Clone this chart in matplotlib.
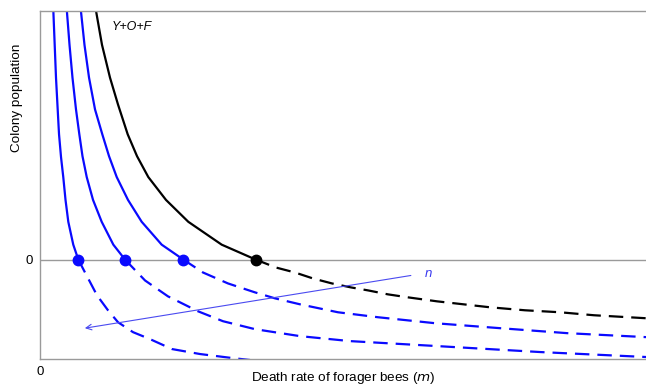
import matplotlib
matplotlib.use("Agg")
import matplotlib.pyplot as plt

plt.rcParams['font.family'] = ['Liberation Sans', 'DejaVu Sans']

# ---- data (x: death rate on a 0-100 scale; y: colony population, arbitrary units) ----
black_solid_x = [9.19, 10.23, 11.55, 12.87, 14.47, 16.01, 17.87, 20.79, 24.47, 29.98, 35.59]
black_solid_y = [2.52, 2.16, 1.83, 1.56, 1.26, 1.04, 0.83, 0.60, 0.38, 0.15, 0.0]
black_dash_x = [35.59, 38.94, 42.08, 45.05, 48.18, 51.32, 54.13, 57.43, 60.73, 65.51,
                74.26, 80.03, 85.81, 91.42, 100.0]
black_dash_y = [0.0, -0.08, -0.13, -0.19, -0.24, -0.28, -0.31, -0.35, -0.38, -0.42,
                -0.48, -0.51, -0.53, -0.56, -0.59]

blue3_solid_x = [6.72, 7.34, 8.09, 9.08, 10.28, 11.39, 12.66, 14.52, 16.78, 20.08, 23.65]
blue3_solid_y = [2.52, 2.16, 1.83, 1.51, 1.26, 1.04, 0.83, 0.60, 0.38, 0.15, 0.0]
blue3_dash_x = [23.65, 26.90, 31.02, 35.48, 38.78, 42.90, 49.17, 55.78, 65.18, 75.91, 86.96, 100.0]
blue3_dash_y = [0.0, -0.13, -0.24, -0.33, -0.39, -0.45, -0.53, -0.58, -0.64, -0.69, -0.74, -0.78]

blue2_solid_x = [4.41, 4.87, 5.36, 5.94, 6.49, 7.01, 7.71, 8.75, 10.18, 12.10, 14.03]
blue2_solid_y = [2.52, 2.16, 1.83, 1.51, 1.26, 1.04, 0.83, 0.60, 0.38, 0.15, 0.0]
blue2_dash_x = [14.03, 17.33, 21.12, 26.07, 30.20, 35.48, 42.90, 51.16, 65.51, 82.51, 100.0]
blue2_dash_y = [0.0, -0.21, -0.37, -0.52, -0.62, -0.70, -0.77, -0.82, -0.87, -0.93, -0.98]

blue1_solid_x = [2.19, 2.64, 3.05, 3.14, 3.47, 3.84, 4.21, 4.67, 5.49, 6.32]
blue1_solid_y = [2.52, 1.83, 1.36, 1.26, 1.03, 0.83, 0.60, 0.38, 0.15, 0.0]
blue1_dash_x = [6.32, 7.43, 9.41, 11.22, 12.87, 15.35, 18.15, 21.78, 26.40, 31.68, 34.65]
blue1_dash_y = [0.0, -0.13, -0.36, -0.51, -0.63, -0.73, -0.80, -0.90, -0.95, -0.99, -1.01]

blue_dot_x = [6.32, 14.03, 23.65]
black_dot_x = [35.59]

arrow_start = (61.2, -0.16)
arrow_end = (7.4, -0.69)

BLUE = '#0a0aff'
GREY = '#9a9a9a'

fig = plt.figure(figsize=(6.46, 3.86), dpi=100)
ax = fig.add_axes([40/646, (386-359)/386, 606/646, 348/386])
ax.set_xlim(0, 100)
ax.set_ylim(-1, 2.5)

ax.axhline(0, color=GREY, lw=1.0, zorder=1)

lw = 1.6
dash = (0, (6.5, 3.6))
ax.plot(black_solid_x, black_solid_y, color='black', lw=lw, solid_joinstyle='round')
ax.plot(black_dash_x, black_dash_y, color='black', lw=lw, linestyle=dash)
for sx, sy, dx, dy in [(blue1_solid_x, blue1_solid_y, blue1_dash_x, blue1_dash_y),
                       (blue2_solid_x, blue2_solid_y, blue2_dash_x, blue2_dash_y),
                       (blue3_solid_x, blue3_solid_y, blue3_dash_x, blue3_dash_y)]:
    ax.plot(sx, sy, color=BLUE, lw=lw, solid_joinstyle='round')
    ax.plot(dx, dy, color=BLUE, lw=lw, linestyle=dash)

ax.plot(blue_dot_x, [0]*len(blue_dot_x), 'o', color=BLUE, ms=7.5, zorder=5)
ax.plot(black_dot_x, [0]*len(black_dot_x), 'o', color='black', ms=7.5, zorder=5)

ax.annotate('', xy=arrow_end, xytext=arrow_start,
            arrowprops=dict(arrowstyle='->', color='#4a4af0', lw=0.8,
                            mutation_scale=10, shrinkA=0, shrinkB=0))
ax.text(63.5, -0.15, 'n', color='#3a3af0', style='italic', fontsize=9.5,
        ha='left', va='center')
ax.text(11.9, 2.34, 'Y+O+F', color='black', style='italic', fontsize=9,
        ha='left', va='center')

for s in ['left', 'top', 'bottom']:
    ax.spines[s].set_color(GREY)
    ax.spines[s].set_linewidth(1.0)
ax.spines['right'].set_visible(False)

ax.set_xticks([0])
ax.set_xticklabels(['0'])
ax.set_yticks([0])
ax.set_yticklabels(['0'])
ax.tick_params(length=0, labelsize=9.5, pad=5)
ax.set_xlabel('Death rate of forager bees ($\\it{m}$)', fontsize=9.7)
ax.set_ylabel('Colony population', fontsize=9.7)
ax.xaxis.set_label_coords(0.5, -0.033)
ax.yaxis.set_label_coords(-0.028, 0.75)

fig.savefig('out.png', dpi=100)
